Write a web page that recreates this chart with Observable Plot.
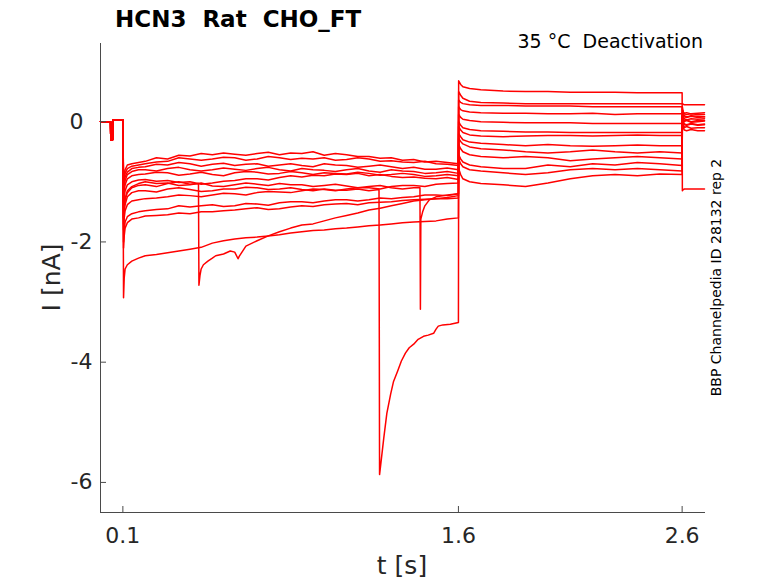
<!DOCTYPE html>
<html><head><meta charset="utf-8">
<script src="https://cdn.jsdelivr.net/npm/d3@7"></script>
<script src="https://cdn.jsdelivr.net/npm/@observablehq/plot@0.6"></script>
<style>
body{margin:0;background:#fff;}
#chart{position:relative;width:778px;height:583px;}
svg text{white-space:pre;}
</style></head><body><div id="chart"></div>
<script>
// ---- tick labels ----
const xTicks = [0.1, 1.6, 2.6];
const yTicksZero = [0];
const yTicksNeg = [-2, -4, -6];

// ---- pre-pulse baseline (shared by all sweeps) ----
const preT = [0, 0.045, 0.046, 0.054, 0.055, 0.1];
const preI = [0, 0, -0.3, -0.3, 0.03, 0.03];

// ---- holding phase time grid (s) ----
const holdT = [0.103, 0.106, 0.11, 0.12, 0.14, 0.17,
  0.2, 0.25, 0.3, 0.35, 0.4, 0.45, 0.5, 0.55, 0.6, 0.65, 0.7, 0.75, 0.8, 0.85,
  0.9, 0.95, 1.0, 1.05, 1.1, 1.15, 1.2, 1.25, 1.3, 1.35, 1.4, 1.45, 1.5, 1.55, 1.6];

// ---- holding phase currents (nA), null = replaced by an event below ----
const hold1  = [-1.00,-0.90,-0.80,-0.72,-0.70,-0.68, -0.66,-0.60,-0.62,-0.56,-0.57,-0.53,-0.55,-0.52,-0.54,-0.56,-0.53,-0.51,-0.55,-0.52,-0.53,-0.50,-0.56,-0.53,-0.55,-0.58,-0.58,-0.61,-0.60,-0.64,-0.63,-0.67,-0.66,-0.68,-0.70];
const hold2  = [-1.05,-0.95,-0.86,-0.78,-0.74,-0.72, -0.70,-0.67,-0.66,-0.60,-0.62,-0.64,-0.62,-0.59,-0.60,-0.64,-0.62,-0.58,-0.60,-0.63,-0.61,-0.62,-0.60,-0.64,-0.63,-0.60,-0.62,-0.66,-0.65,-0.67,-0.68,-0.66,-0.70,-0.71,-0.73];
const hold3  = [-1.10,-1.00,-0.92,-0.84,-0.78,-0.76, -0.75,-0.71,-0.72,-0.68,-0.70,-0.74,-0.71,-0.69,-0.73,-0.71,-0.70,-0.74,-0.72,-0.70,-0.73,-0.75,-0.70,-0.72,-0.73,-0.76,-0.74,-0.72,-0.75,-0.78,-0.76,-0.79,-0.79,-0.77,-0.80];
const hold4  = [-1.20,-1.08,-0.98,-0.88,-0.83,-0.80, -0.80,-0.82,-0.78,-0.76,-0.80,-0.82,-0.80,-0.77,-0.79,-0.81,-0.78,-0.76,-0.80,-0.82,-0.78,-0.80,-0.81,-0.83,-0.80,-0.78,-0.82,-0.84,-0.80,-0.82,-0.83,-0.86,-0.85,-0.83,-0.86];
const hold5  = [-1.30,-1.15,-1.05,-0.95,-0.90,-0.88, -0.87,-0.84,-0.85,-0.89,-0.87,-0.84,-0.88,-0.90,-0.85,-0.83,-0.84,-0.87,-0.86,-0.83,-0.85,-0.88,-0.85,-0.86,-0.87,-0.84,-0.86,-0.89,-0.88,-0.86,-0.88,-0.91,-0.90,-0.88,-0.90];
const hold6  = [-1.40,-1.25,-1.15,-1.05,-1.00,-0.97, -0.96,-0.99,-0.98,-1.01,-1.00,-1.04,-1.02,-0.99,-0.98,-0.95,-0.95,-0.97,-0.93,-0.90,-0.92,-0.89,-0.90,-0.87,-0.88,-0.86,-0.90,-0.88,-0.91,-0.93,-0.92,-0.94,-0.95,-0.93,-0.96];
const hold7  = [-1.80,-1.60,-1.48,-1.38,-1.32,-1.30, -1.28,-1.27,-1.25,-1.22,-1.23,-1.25,-1.22,-1.19,-1.20,-1.22,-1.18,-1.16,-1.17,-1.18,-1.15,-1.12,-1.13,-1.15,-1.12,-1.10,-1.10,-1.12,-1.08,-1.06,-1.06,-1.08,-1.04,-1.03,-1.02];
const hold8  = [-2.00,-1.80,-1.67,-1.58,-1.53,-1.50, -1.48,-1.46,-1.45,-1.40,-1.42,-1.40,-1.38,-1.41,-1.40,-1.36,-1.37,-1.39,-1.35,-1.33,-1.33,-1.35,-1.32,-1.30,-1.30,-1.32,-1.30,-1.27,-1.28,-1.26,-1.25,-1.22,-1.22,-1.23,-1.20];
const hold9  = [-1.60,-1.40,-1.28,-1.15,-1.08,-1.03, -1.00,-1.03,-1.02,-1.06,-1.05,-1.02,-1.07,-1.08,-1.05,-1.02,-1.04,-1.06,-1.03,-1.05,-1.05,-1.08,-1.06,-1.04,-1.07,-1.10,-1.08,-1.06,-1.10,-1.12,-1.10,null,null,-1.22,-1.20];
const hold10 = [-1.60,-1.42,-1.30,-1.18,-1.10,-1.06, -1.05,-1.08,-1.03,-1.00,-1.04,null,null,null,null,null,null,null,-1.83,-1.77,-1.72,-1.70,-1.65,-1.60,-1.56,-1.52,-1.47,-1.44,-1.40,-1.36,-1.32,-1.30,-1.28,-1.26,-1.23];
const hold11 = [-2.10,-1.90,-1.77,-1.68,-1.62,-1.60, -1.57,-1.56,-1.55,-1.52,-1.53,-1.50,-1.50,-1.48,-1.47,-1.45,-1.43,-1.46,-1.45,-1.42,-1.40,-1.41,-1.38,-1.37,-1.36,-1.38,-1.35,-1.34,-1.33,-1.31,-1.30,-1.29,-1.28,-1.28,-1.27];
const hold12 = [-2.93,-2.60,-2.45,-2.38,-2.32,-2.27, -2.23,-2.21,-2.18,-2.15,-2.12,-2.09,-2.02,-1.98,-1.95,-1.93,-1.92,-1.90,-1.88,-1.85,-1.83,-1.81,-1.80,-1.78,-1.77,-1.75,-1.73,-1.72,-1.70,-1.68,-1.67,-1.66,-1.65,-1.62,-1.60];
const hold13 = [-1.70,-1.50,-1.38,-1.25,-1.18,-1.15, -1.15,-1.17,-1.12,-1.10,-1.13,-1.16,-1.15,-1.12,-1.12,-1.09,-1.10,-1.13,-1.12,-1.10,-1.13,-1.15,-1.12,-1.14,-1.14,-1.12,-1.15,null,null,null,null,null,null,null,null];

// ---- transient events ----
const ev9T  = [1.428, 1.430, 1.432, 1.44, 1.45, 1.47, 1.5];
const ev9I  = [-1.10, -3.12, -1.62, -1.50, -1.40, -1.30, -1.25];
const ev10T = [0.438, 0.44, 0.445, 0.45, 0.46, 0.48, 0.5, 0.515, 0.55, 0.58, 0.60, 0.615, 0.62, 0.65, 0.7, 0.75];
const ev10I = [-1.03, -2.72, -2.55, -2.45, -2.38, -2.32, -2.27, -2.23, -2.20, -2.15, -2.17, -2.28, -2.24, -2.07, -1.98, -1.90];
const ev13T = [1.245, 1.2475, 1.266, 1.28, 1.297, 1.31, 1.328, 1.345, 1.363, 1.38, 1.40, 1.42, 1.444, 1.465, 1.489, 1.50, 1.51, 1.53, 1.564, 1.6];
const ev13I = [-1.13, -5.87, -5.27, -4.85, -4.53, -4.32, -4.15, -3.98, -3.85, -3.76, -3.70, -3.62, -3.57, -3.55, -3.52, -3.45, -3.40, -3.38, -3.37, -3.34];

// ---- test step phase ----
const stepT = [1.601, 1.61, 1.62, 1.65, 1.7, 1.8, 1.9, 2.0, 2.1, 2.2, 2.3, 2.4, 2.5, 2.6];
const step1  = [0.68,0.62,0.58,0.55,0.53,0.51,0.50,0.50,0.49,0.49,0.49,0.48,0.48,0.48];
const step2  = [0.50,0.44,0.39,0.34,0.32,0.31,0.30,0.30,0.30,0.30,0.30,0.30,0.30,0.30];
const step3  = [0.36,0.32,0.30,0.28,0.27,0.27,0.26,0.26,0.26,0.25,0.25,0.25,0.25,0.25];
const step4  = [0.25,0.20,0.18,0.16,0.15,0.14,0.14,0.13,0.13,0.14,0.12,0.13,0.13,0.13];
const step5  = [0.12,0.07,0.04,0.02,0.00,-0.01,-0.02,-0.02,-0.02,-0.03,-0.03,-0.03,-0.03,-0.03];
const step6  = [0.00,-0.06,-0.10,-0.13,-0.15,-0.16,-0.17,-0.17,-0.18,-0.18,-0.18,-0.18,-0.18,-0.18];
const step7  = [-0.08,-0.14,-0.18,-0.22,-0.24,-0.25,-0.24,-0.23,-0.23,-0.24,-0.23,-0.22,-0.23,-0.23];
const step8  = [-0.20,-0.25,-0.30,-0.34,-0.36,-0.38,-0.40,-0.38,-0.40,-0.41,-0.40,-0.39,-0.40,-0.40];
const step9  = [-0.28,-0.33,-0.37,-0.42,-0.45,-0.47,-0.50,-0.52,-0.50,-0.47,-0.50,-0.52,-0.50,-0.52];
const step10 = [-0.38,-0.45,-0.50,-0.55,-0.58,-0.60,-0.58,-0.60,-0.65,-0.62,-0.60,-0.58,-0.60,-0.62];
const step11 = [-0.55,-0.62,-0.67,-0.72,-0.75,-0.78,-0.78,-0.72,-0.75,-0.70,-0.72,-0.68,-0.70,-0.73];
const step12 = [-0.62,-0.70,-0.75,-0.80,-0.82,-0.85,-0.88,-0.85,-0.80,-0.78,-0.80,-0.78,-0.80,-0.82];
const step13 = [-0.78,-0.88,-0.95,-1.00,-1.03,-1.05,-1.08,-1.02,-0.95,-0.90,-0.88,-0.90,-0.87,-0.88];

// ---- tail phase ----
const tailT = [2.601, 2.605, 2.61, 2.62, 2.64, 2.67, 2.7];
const tail1  = [-1.15,-1.13,-1.12,-1.12,-1.12,-1.12,-1.12];
const tail2  = [0.30,0.29,0.28,0.28,0.28,0.28,0.28];
const tail3  = [0.20,0.15,0.13,0.12,0.13,0.12,0.12];
const tail4  = [0.25,0.15,0.10,0.08,0.10,0.09,0.08];
const tail5  = [0.15,0.08,0.05,0.03,0.05,0.04,0.05];
const tail6  = [0.20,0.16,0.14,0.15,0.13,0.14,0.15];
const tail7  = [0.10,0.03,0.00,0.02,-0.01,0.00,0.01];
const tail8  = [0.10,0.00,-0.04,-0.05,-0.03,-0.05,-0.04];
const tail9  = [0.05,-0.05,-0.10,-0.08,-0.11,-0.10,-0.10];
const tail10 = [0.15,0.10,0.08,0.07,0.09,0.07,0.08];
const tail11 = [0.00,-0.10,-0.14,-0.15,-0.13,-0.15,-0.15];
const tail12 = [0.10,0.05,0.02,0.03,0.00,0.02,0.02];
const tail13 = [0.05,-0.02,-0.05,-0.06,-0.04,-0.06,-0.05];

// ---- assemble sweeps ----
const holds = [hold1,hold2,hold3,hold4,hold5,hold6,hold7,hold8,hold9,hold10,hold11,hold12,hold13];
const steps = [step1,step2,step3,step4,step5,step6,step7,step8,step9,step10,step11,step12,step13];
const tails = [tail1,tail2,tail3,tail4,tail5,tail6,tail7,tail8,tail9,tail10,tail11,tail12,tail13];
const events = {8: [ev9T, ev9I], 9: [ev10T, ev10I], 12: [ev13T, ev13I]};

const rows = [];
holds.forEach((h, k) => {
  const pts = [];
  preT.forEach((t, i) => pts.push({t, I: preI[i]}));
  const held = [];
  holdT.forEach((t, i) => { if (h[i] !== null) held.push({t, I: h[i]}); });
  if (events[k]) {
    const [et, ei] = events[k];
    et.forEach((t, i) => held.push({t, I: ei[i]}));
  }
  held.sort((a, b) => a.t - b.t);
  held.forEach(p => pts.push(p));
  stepT.forEach((t, i) => pts.push({t, I: steps[k][i]}));
  tailT.forEach((t, i) => pts.push({t, I: tails[k][i]}));
  pts.forEach(p => rows.push({id: k, t: p.t, I: p.I}));
});

const chart = Plot.plot({
  width: 778, height: 583,
  marginLeft: 100, marginRight: 74, marginTop: 43, marginBottom: 71,
  style: {fontFamily: "DejaVu Sans", fontSize: "22px", color: "#262626", background: "#fff", overflow: "visible"},
  x: {domain: [0, 2.7]},
  y: {domain: [-6.5, 1.3]},
  marks: [
    Plot.line(rows, {x: "t", y: "I", z: "id", stroke: "#ff0000", strokeWidth: 1.5}),
    Plot.frame({anchor: "left", stroke: "#4a4a4a"}),
    Plot.frame({anchor: "bottom", stroke: "#4a4a4a"}),
    Plot.axisX(xTicks, {tickSize: -6, tickPadding: 21, tickFormat: d => String(d), label: null, stroke: "#4a4a4a", fill: "#262626"}),
    Plot.axisY(yTicksZero, {tickSize: -6, tickPadding: 23, tickFormat: d => String(d), label: null, stroke: "#4a4a4a", fill: "#262626"}),
    Plot.axisY(yTicksNeg, {tickSize: -6, tickPadding: 14, tickFormat: d => String(d), label: null, stroke: "#4a4a4a", fill: "#262626"})
  ]
});
document.getElementById("chart").appendChild(chart);

const svg = d3.select(chart);
svg.append("text").attr("x", 115).attr("y", 27).attr("text-anchor", "start")
  .attr("font-family", "DejaVu Sans").attr("font-weight", "bold").attr("font-size", 23)
  .attr("fill", "#000").text("HCN3  Rat  CHO_FT");
svg.append("text").attr("x", 703).attr("y", 48).attr("text-anchor", "end")
  .attr("font-family", "DejaVu Sans").attr("font-size", 19).attr("fill", "#000")
  .text("35 °C  Deactivation");
svg.append("text").attr("transform", "translate(60,277.5) rotate(-90)").attr("text-anchor", "middle")
  .attr("font-family", "DejaVu Sans").attr("font-size", 25).attr("fill", "#262626").text("I [nA]");
svg.append("text").attr("x", 402).attr("y", 574).attr("text-anchor", "middle")
  .attr("font-family", "DejaVu Sans").attr("font-size", 25).attr("fill", "#262626").text("t [s]");
svg.append("text").attr("transform", "translate(721,277.5) rotate(-90)").attr("text-anchor", "middle")
  .attr("font-family", "DejaVu Sans").attr("font-size", 14).attr("fill", "#000")
  .text("BBP Channelpedia ID 28132 rep 2");
</script></body></html>
